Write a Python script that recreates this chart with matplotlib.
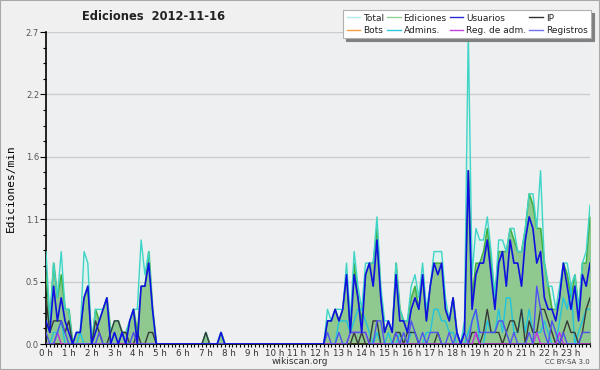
import matplotlib
matplotlib.use("Agg")
import matplotlib.pyplot as plt
import numpy as np
from matplotlib.lines import Line2D
from matplotlib.patches import Rectangle

# per-minute rates, one value every 10 minutes (12 values = 2 hours per row)
total = [0.8, 0.2, 0.7, 0.4, 0.8, 0.3, 0.3, 0.0, 0.1, 0.1, 0.8, 0.7,
         0.0, 0.3, 0.3, 0.3, 0.4, 0.1, 0.2, 0.2, 0.1, 0.1, 0.2, 0.3,
         0.3, 0.9, 0.6, 0.8, 0.3, 0.0, 0.0, 0.0, 0.0, 0.0, 0.0, 0.0,
         0.0, 0.0, 0.0, 0.0, 0.0, 0.0, 0.1, 0.0, 0.0, 0.0, 0.1, 0.0,
         0.0, 0.0, 0.0, 0.0, 0.0, 0.0, 0.0, 0.0, 0.0, 0.0, 0.0, 0.0,
         0.0, 0.0, 0.0, 0.0, 0.0, 0.0, 0.0, 0.0, 0.0, 0.0, 0.0, 0.0,
         0.0, 0.0, 0.3, 0.2, 0.3, 0.3, 0.3, 0.7, 0.2, 0.8, 0.5, 0.3,
         0.7, 0.7, 0.7, 1.1, 0.5, 0.2, 0.2, 0.1, 0.7, 0.3, 0.2, 0.2,
         0.5, 0.6, 0.4, 0.7, 0.3, 0.5, 0.8, 0.8, 0.8, 0.4, 0.2, 0.4,
         0.1, 0.0, 0.2, 2.7, 0.6, 1.0, 0.9, 0.9, 1.1, 0.8, 0.4, 0.9,
         0.9, 0.8, 1.0, 1.0, 0.8, 0.8, 1.0, 1.3, 1.3, 1.0, 1.5, 0.7,
         0.5, 0.5, 0.3, 0.5, 0.7, 0.7, 0.5, 0.6, 0.3, 0.7, 0.8, 1.2]

ediciones = [0.6, 0.2, 0.7, 0.4, 0.6, 0.3, 0.3, 0.0, 0.1, 0.1, 0.4, 0.5,
             0.0, 0.3, 0.2, 0.3, 0.4, 0.1, 0.2, 0.2, 0.1, 0.1, 0.2, 0.3,
             0.1, 0.5, 0.5, 0.8, 0.3, 0.0, 0.0, 0.0, 0.0, 0.0, 0.0, 0.0,
             0.0, 0.0, 0.0, 0.0, 0.0, 0.0, 0.1, 0.0, 0.0, 0.0, 0.1, 0.0,
             0.0, 0.0, 0.0, 0.0, 0.0, 0.0, 0.0, 0.0, 0.0, 0.0, 0.0, 0.0,
             0.0, 0.0, 0.0, 0.0, 0.0, 0.0, 0.0, 0.0, 0.0, 0.0, 0.0, 0.0,
             0.0, 0.0, 0.2, 0.2, 0.3, 0.2, 0.3, 0.6, 0.1, 0.7, 0.4, 0.2,
             0.6, 0.7, 0.7, 1.0, 0.4, 0.1, 0.2, 0.1, 0.7, 0.3, 0.2, 0.2,
             0.4, 0.5, 0.3, 0.6, 0.2, 0.5, 0.7, 0.7, 0.7, 0.3, 0.2, 0.4,
             0.1, 0.0, 0.1, 1.5, 0.4, 0.7, 0.7, 0.8, 1.0, 0.7, 0.4, 0.8,
             0.8, 0.8, 1.0, 0.9, 0.8, 0.8, 1.0, 1.3, 1.2, 1.0, 1.0, 0.7,
             0.5, 0.3, 0.3, 0.4, 0.7, 0.6, 0.4, 0.6, 0.3, 0.7, 0.7, 1.1]

usuarios = [0.2, 0.1, 0.5, 0.2, 0.4, 0.2, 0.1, 0.0, 0.1, 0.1, 0.4, 0.5,
            0.0, 0.1, 0.2, 0.3, 0.4, 0.0, 0.1, 0.0, 0.1, 0.0, 0.2, 0.3,
            0.0, 0.5, 0.5, 0.7, 0.3, 0.0, 0.0, 0.0, 0.0, 0.0, 0.0, 0.0,
            0.0, 0.0, 0.0, 0.0, 0.0, 0.0, 0.0, 0.0, 0.0, 0.0, 0.1, 0.0,
            0.0, 0.0, 0.0, 0.0, 0.0, 0.0, 0.0, 0.0, 0.0, 0.0, 0.0, 0.0,
            0.0, 0.0, 0.0, 0.0, 0.0, 0.0, 0.0, 0.0, 0.0, 0.0, 0.0, 0.0,
            0.0, 0.0, 0.2, 0.2, 0.3, 0.2, 0.3, 0.6, 0.1, 0.6, 0.4, 0.1,
            0.6, 0.7, 0.5, 0.9, 0.4, 0.1, 0.2, 0.1, 0.6, 0.2, 0.2, 0.1,
            0.3, 0.4, 0.3, 0.6, 0.2, 0.5, 0.7, 0.6, 0.7, 0.3, 0.2, 0.4,
            0.1, 0.0, 0.1, 1.5, 0.3, 0.6, 0.7, 0.7, 0.9, 0.6, 0.3, 0.7,
            0.8, 0.5, 0.9, 0.7, 0.7, 0.5, 0.9, 1.1, 1.0, 0.7, 0.8, 0.4,
            0.3, 0.3, 0.2, 0.4, 0.7, 0.5, 0.3, 0.5, 0.2, 0.6, 0.5, 0.7]

ip = [0.4, 0.1, 0.2, 0.2, 0.2, 0.1, 0.2, 0.0, 0.0, 0.0, 0.0, 0.0,
      0.0, 0.2, 0.1, 0.0, 0.0, 0.1, 0.2, 0.2, 0.1, 0.1, 0.0, 0.0,
      0.1, 0.0, 0.0, 0.1, 0.1, 0.0, 0.0, 0.0, 0.0, 0.0, 0.0, 0.0,
      0.0, 0.0, 0.0, 0.0, 0.0, 0.0, 0.1, 0.0, 0.0, 0.0, 0.0, 0.0,
      0.0, 0.0, 0.0, 0.0, 0.0, 0.0, 0.0, 0.0, 0.0, 0.0, 0.0, 0.0,
      0.0, 0.0, 0.0, 0.0, 0.0, 0.0, 0.0, 0.0, 0.0, 0.0, 0.0, 0.0,
      0.0, 0.0, 0.0, 0.0, 0.0, 0.0, 0.0, 0.0, 0.0, 0.1, 0.0, 0.1,
      0.0, 0.0, 0.2, 0.2, 0.0, 0.0, 0.0, 0.0, 0.1, 0.1, 0.0, 0.1,
      0.1, 0.1, 0.0, 0.0, 0.0, 0.0, 0.0, 0.1, 0.0, 0.0, 0.0, 0.0,
      0.0, 0.0, 0.0, 0.0, 0.1, 0.1, 0.0, 0.1, 0.3, 0.1, 0.1, 0.1,
      0.0, 0.1, 0.2, 0.2, 0.1, 0.3, 0.0, 0.2, 0.1, 0.1, 0.3, 0.3,
      0.2, 0.1, 0.0, 0.0, 0.1, 0.2, 0.1, 0.1, 0.0, 0.1, 0.3, 0.4]

admins = [0.0, 0.0, 0.1, 0.1, 0.2, 0.0, 0.0, 0.0, 0.0, 0.1, 0.0, 0.0,
          0.0, 0.0, 0.0, 0.0, 0.0, 0.0, 0.0, 0.0, 0.1, 0.0, 0.0, 0.0,
          0.0, 0.0, 0.0, 0.0, 0.0, 0.0, 0.0, 0.0, 0.0, 0.0, 0.0, 0.0,
          0.0, 0.0, 0.0, 0.0, 0.0, 0.0, 0.0, 0.0, 0.0, 0.0, 0.0, 0.0,
          0.0, 0.0, 0.0, 0.0, 0.0, 0.0, 0.0, 0.0, 0.0, 0.0, 0.0, 0.0,
          0.0, 0.0, 0.0, 0.0, 0.0, 0.0, 0.0, 0.0, 0.0, 0.0, 0.0, 0.0,
          0.0, 0.0, 0.0, 0.0, 0.0, 0.2, 0.2, 0.2, 0.1, 0.2, 0.3, 0.3,
          0.2, 0.1, 0.0, 0.1, 0.0, 0.0, 0.1, 0.0, 0.0, 0.1, 0.0, 0.0,
          0.1, 0.1, 0.0, 0.0, 0.1, 0.1, 0.3, 0.3, 0.2, 0.2, 0.1, 0.1,
          0.0, 0.0, 0.0, 0.1, 0.2, 0.3, 0.0, 0.0, 0.2, 0.1, 0.1, 0.3,
          0.1, 0.4, 0.4, 0.1, 0.1, 0.3, 0.1, 0.3, 0.1, 0.1, 0.1, 0.2,
          0.1, 0.0, 0.0, 0.2, 0.4, 0.3, 0.5, 0.0, 0.1, 0.2, 0.3, 0.3]

registros = [0.1, 0.0, 0.0, 0.1, 0.2, 0.1, 0.0, 0.0, 0.0, 0.0, 0.0, 0.0,
             0.0, 0.0, 0.1, 0.0, 0.0, 0.0, 0.0, 0.0, 0.1, 0.0, 0.0, 0.1,
             0.0, 0.0, 0.0, 0.0, 0.0, 0.0, 0.0, 0.0, 0.0, 0.0, 0.0, 0.0,
             0.0, 0.0, 0.0, 0.0, 0.0, 0.0, 0.0, 0.0, 0.0, 0.0, 0.0, 0.0,
             0.0, 0.0, 0.0, 0.0, 0.0, 0.0, 0.0, 0.0, 0.0, 0.0, 0.0, 0.0,
             0.0, 0.0, 0.0, 0.0, 0.0, 0.0, 0.0, 0.0, 0.0, 0.0, 0.0, 0.0,
             0.0, 0.0, 0.1, 0.0, 0.0, 0.1, 0.0, 0.0, 0.1, 0.1, 0.1, 0.1,
             0.1, 0.0, 0.0, 0.2, 0.2, 0.0, 0.0, 0.0, 0.1, 0.0, 0.1, 0.0,
             0.2, 0.1, 0.0, 0.1, 0.0, 0.1, 0.1, 0.1, 0.0, 0.0, 0.1, 0.0,
             0.1, 0.0, 0.1, 0.0, 0.2, 0.3, 0.1, 0.1, 0.1, 0.1, 0.1, 0.2,
             0.2, 0.1, 0.0, 0.1, 0.0, 0.0, 0.0, 0.1, 0.0, 0.5, 0.3, 0.1,
             0.0, 0.2, 0.1, 0.0, 0.1, 0.0, 0.0, 0.0, 0.0, 0.1, 0.1, 0.1]

reg_adm = [0.0, 0.0, 0.0, 0.1, 0.0, 0.0, 0.0, 0.0, 0.0, 0.0, 0.0, 0.0,
           0.0, 0.0, 0.0, 0.0, 0.0, 0.0, 0.0, 0.0, 0.0, 0.0, 0.0, 0.0,
           0.0, 0.0, 0.0, 0.0, 0.0, 0.0, 0.0, 0.0, 0.0, 0.0, 0.0, 0.0,
           0.0, 0.0, 0.0, 0.0, 0.0, 0.0, 0.0, 0.0, 0.0, 0.0, 0.0, 0.0,
           0.0, 0.0, 0.0, 0.0, 0.0, 0.0, 0.0, 0.0, 0.0, 0.0, 0.0, 0.0,
           0.0, 0.0, 0.0, 0.0, 0.0, 0.0, 0.0, 0.0, 0.0, 0.0, 0.0, 0.0,
           0.0, 0.0, 0.0, 0.0, 0.0, 0.0, 0.0, 0.0, 0.1, 0.1, 0.1, 0.1,
           0.1, 0.0, 0.0, 0.0, 0.0, 0.0, 0.0, 0.0, 0.0, 0.0, 0.0, 0.0,
           0.0, 0.0, 0.0, 0.0, 0.0, 0.0, 0.0, 0.0, 0.0, 0.0, 0.0, 0.0,
           0.0, 0.0, 0.0, 0.0, 0.0, 0.1, 0.0, 0.0, 0.0, 0.0, 0.0, 0.0,
           0.0, 0.0, 0.0, 0.0, 0.0, 0.0, 0.0, 0.0, 0.0, 0.1, 0.0, 0.0,
           0.0, 0.0, 0.0, 0.1, 0.0, 0.0, 0.0, 0.0, 0.0, 0.0, 0.0, 0.0]

bots = [0.0] * 144

hour_labels = [f"{h} h" for h in range(24)]
y_ticks = [0.0, 0.54, 1.08, 1.62, 2.16, 2.7]
y_labels = ["0.0", "0.5", "1.1", "1.6", "2.2", "2.7"]

colors = {"Total": "#b4eaea", "Ediciones": "#8fd48f", "Usuarios": "#2a2ad8",
          "IP": "#303030", "Bots": "#f0a040", "Admins.": "#30c8dc",
          "Reg. de adm.": "#c040e0", "Registros": "#7070f0"}

x = np.arange(len(total))

fig = plt.figure(figsize=(6, 3.7), dpi=100, facecolor="#f0f0f0")
fig.patches.append(Rectangle((0, 0), 1, 1, transform=fig.transFigure, fill=False,
                             edgecolor="#a8a8a8", linewidth=1.5))
ax = fig.add_axes([46 / 600, 1 - 344 / 370, 544 / 600, 312 / 370])
ax.set_facecolor("#eeeff1")

ax.fill_between(x, total, color="#dff3ee", zorder=1)
ax.fill_between(x, ediciones, color="#8fc98f", zorder=2)
ax.plot(x, ediciones, color="#3cb03c", lw=1, zorder=3)
ax.plot(x, total, color="#40d4c8", lw=1, zorder=3)
ax.plot(x, bots, color=colors["Bots"], lw=1, zorder=4)
ax.plot(x, admins, color="#20c4dc", lw=1, zorder=4)
ax.plot(x, ip, color="#383838", lw=1, zorder=4)
ax.plot(x, reg_adm, color="#c030e8", lw=1, zorder=4)
ax.plot(x, registros, color="#5050f0", lw=1, zorder=4)
ax.plot(x, usuarios, color="#1010e0", lw=1.2, zorder=5)

ax.set_xlim(0, len(x) - 1)
ax.set_ylim(0, 2.7)
ax.set_xticks(np.arange(0, 144, 6))
ax.set_xticklabels(hour_labels)
ax.set_xticks(x, minor=True)
ax.set_yticks(y_ticks)
ax.set_yticklabels(y_labels)
ax.set_yticks(np.arange(0, 2.71, 0.135), minor=True)
ax.tick_params(axis="x", which="both", length=2.5, width=0.8, labelsize=6.3,
               labelcolor="#333333", pad=1)
ax.tick_params(axis="y", which="major", length=4, width=0.8, labelsize=6,
               labelcolor="#555555", pad=1)
ax.tick_params(axis="y", which="minor", length=2, width=0.8)
ax.grid(axis="y", which="major", color="#cccccc", lw=1, zorder=0)
for side in ["top", "right"]:
    ax.spines[side].set_visible(False)
for side in ["left", "bottom"]:
    ax.spines[side].set_linewidth(1.2)
ax.set_ylabel("Ediciones/min", family="DejaVu Sans Mono", fontsize=8, labelpad=7)

fig.text(154 / 600, 1 - 16.5 / 370, "Ediciones  2012-11-16", ha="center", va="center",
         fontsize=8.3, fontweight="bold", color="#222222")
fig.text(300 / 600, 1 - 361 / 370, "wikiscan.org", ha="center", va="center",
         fontsize=6.5, color="#333333")
fig.text(590 / 600, 1 - 362 / 370, "CC BY-SA 3.0", ha="right", va="center",
         fontsize=5, color="#444444")

order = ["Total", "Bots", "Ediciones", "Admins.", "Usuarios", "Reg. de adm.", "IP", "Registros"]
handles = [Line2D([], [], color=colors[k], lw=1) for k in order]
leg = fig.legend(handles, order, loc="upper right", bbox_to_anchor=(0.985, 0.973), ncol=4,
                 fontsize=6.5, frameon=True, fancybox=False, shadow={"color": "#808080", "alpha": 1},
                 handlelength=1.5, handletextpad=0.3, columnspacing=0.35, labelspacing=0.35,
                 borderpad=0.4, borderaxespad=0)
leg.get_frame().set_edgecolor("#b0b0b0")
leg.get_frame().set_linewidth(0.8)
for t in leg.get_texts():
    t.set_color("#222222")

fig.savefig("out.png", dpi=100, facecolor=fig.get_facecolor())
